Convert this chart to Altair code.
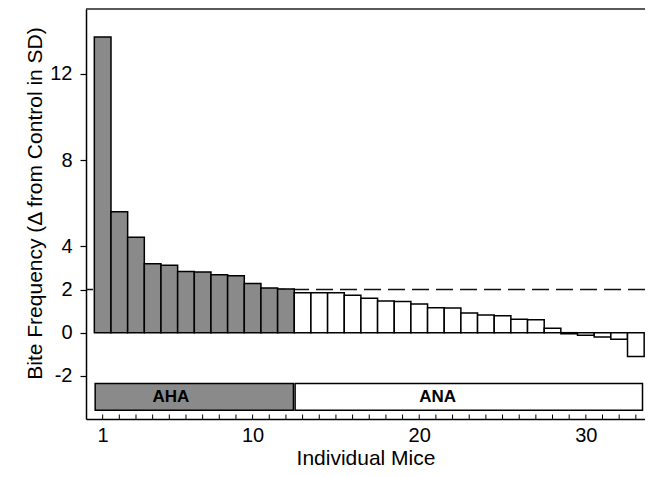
import altair as alt
import pandas as pd

# ---- data ----
mice = list(range(1, 34))
values = [13.7, 5.61, 4.42, 3.20, 3.12, 2.83, 2.81, 2.69, 2.64, 2.28, 2.07, 2.02,
          1.85, 1.85, 1.85, 1.73, 1.59, 1.47, 1.44, 1.33, 1.16, 1.14, 0.91, 0.82,
          0.79, 0.62, 0.60, 0.20, -0.05, -0.12, -0.20, -0.31, -1.10]
groups = ["AHA"] * 12 + ["ANA"] * 21
threshold = [2]
group_names = ["AHA", "ANA"]
group_from = [0.55, 12.55]
group_to = [12.45, 33.4]
group_label_at = [5.1, 21.1]
x_tick_labels = [1, 10, 20, 30]
y_tick_labels = [-2, 0, 2, 4, 8, 12]

df = pd.DataFrame({"mouse": mice, "value": values, "group": groups})
thr_df = pd.DataFrame({"threshold": threshold})
grp_df = pd.DataFrame({"group": group_names, "x0": group_from, "x1": group_to,
                       "lx": group_label_at})

W, H = 559, 410
FONT = "Liberation Sans"

xscale = alt.Scale(domain=[0, 33.55], nice=False, zero=False)
yscale = alt.Scale(domain=[-4, 15], nice=False, zero=False)
fill_scale = alt.Scale(domain=group_names, range=["#8a8a8a", "#ffffff"])

dashed = alt.Chart(thr_df).mark_rule(
    strokeDash=[17, 7], color="#111111", strokeWidth=1.5
).encode(y=alt.Y("threshold:Q", scale=yscale))

bars = alt.Chart(df).transform_calculate(
    x0="datum.mouse - 0.5", x1="datum.mouse + 0.5", zero="0"
).mark_bar(stroke="black", strokeWidth=1.5).encode(
    x=alt.X("x0:Q", scale=xscale, title="Individual Mice",
            axis=alt.Axis(values=x_tick_labels, ticks=False, labelPadding=6,
                          titleY=45, titleBaseline="alphabetic",
                          grid=False, labelFlush=False)),
    x2="x1:Q",
    y=alt.Y("value:Q", scale=yscale,
            title="Bite Frequency (\u0394 from Control in SD)",
            axis=alt.Axis(values=y_tick_labels, tickSize=6, labelPadding=8,
                          labelExpr="replace(datum.label, '\u2212', '-')",
                          grid=False, titleX=-51, titleY=194, titleAngle=270,
                          titleBaseline="middle", titleAlign="center")),
    y2="zero:Q",
    fill=alt.Fill("group:N", scale=fill_scale, legend=None),
)

boxes = alt.Chart(grp_df).transform_calculate(
    ytop="-2.35", ybot="-3.6"
).mark_rect(stroke="black", strokeWidth=1.5).encode(
    x=alt.X("x0:Q", scale=xscale), x2="x1:Q",
    y=alt.Y("ytop:Q", scale=yscale), y2="ybot:Q",
    fill=alt.Fill("group:N", scale=fill_scale, legend=None),
)

labels = alt.Chart(grp_df).transform_calculate(
    ymid="-2.98"
).mark_text(font=FONT, fontWeight="bold", fontSize=17, color="black").encode(
    x=alt.X("lx:Q", scale=xscale),
    y=alt.Y("ymid:Q", scale=yscale),
    text="group:N",
)

ticks = alt.Chart(df).mark_rule(color="black", strokeWidth=1).encode(
    x=alt.X("mouse:Q", scale=xscale),
    y=alt.value(H), y2=alt.value(H - 4.5),
)

top_line = alt.Chart(thr_df).mark_rule(color="#222222", strokeWidth=1.5).encode(
    x=alt.value(0), x2=alt.value(W), y=alt.value(0)
)

chart = alt.layer(dashed, bars, boxes, labels, ticks, top_line).properties(
    width=W, height=H,
    autosize=alt.AutoSizeParams(type="none"),
    padding={"left": 78, "top": 1, "right": 0, "bottom": 50},
).configure_view(stroke=None).configure_axis(
    labelFont=FONT, titleFont=FONT, labelFontSize=20, titleFontSize=21,
    labelColor="black", titleColor="black", titleFontWeight="normal",
    domainColor="black", domainWidth=1.5, tickColor="black", tickWidth=1.2,
)

chart.save("out.html", embed_options={"renderer": "svg", "actions": False})
